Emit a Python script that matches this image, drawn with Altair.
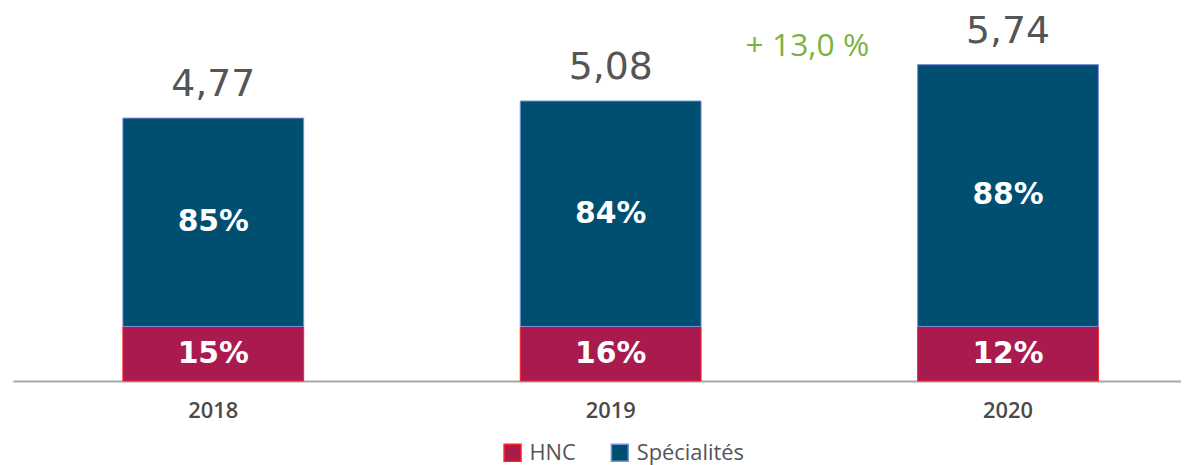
import altair as alt
import pandas as pd

years = ["2018", "2019", "2020"]
totals = [4.77, 5.08, 5.74]
total_labels = ["4,77", "5,08", "5,74"]
hnc_pct = ["15%", "16%", "12%"]
spec_pct = ["85%", "84%", "88%"]
# drawn height of the HNC segment (same units as totals)
hnc_segment = [0.99, 0.99, 0.99]
growth_label = "+ 13,0 %"
segments = ["HNC", "Spécialités"]
seg_colors = ["#a91b4f", "#004f71"]
seg_strokes = ["#ff2020", "#7d8fe0"]

rows = []
for i, yr in enumerate(years):
    h = hnc_segment[i]
    s = totals[i] - h
    rows.append(dict(year=yr, segment="HNC", value=h, start=0.0, mid=h / 2, label=hnc_pct[i], ord=0))
    rows.append(dict(year=yr, segment="Spécialités", value=s, start=h, mid=h + s / 2, label=spec_pct[i], ord=1))
seg_df = pd.DataFrame(rows)
tot_df = pd.DataFrame(dict(year=years, total=totals, label=total_labels))
growth_df = pd.DataFrame(dict(year=[years[-1]], total=[totals[-1]], label=[growth_label]))

FONT = "Open Sans"
xscale = alt.Scale(paddingInner=0.545, paddingOuter=0.2422, align=0.571)
yscale = alt.Scale(domain=[0, 6.595], nice=False, zero=True)

x = alt.X("year:N", scale=xscale, sort=years,
          axis=alt.Axis(title=None, ticks=False, labelAngle=0, labelFontSize=22,
                        labelFont=FONT, labelFontWeight=600, labelColor="#4a4a4a",
                        labelPadding=20, domainColor="#a8a8a8", domainWidth=2))

bars = alt.Chart(seg_df).mark_bar(strokeWidth=1).encode(
    x=x,
    y=alt.Y("value:Q", stack="zero", scale=yscale, axis=None),
    color=alt.Color("segment:N", scale=alt.Scale(domain=segments, range=seg_colors), title=None,
                    legend=alt.Legend(orient="none", legendX=492, legendY=427, direction="horizontal",
                                      symbolType="square", symbolSize=290, symbolStrokeWidth=1.5,
                                      labelFontSize=22, labelFont=FONT, labelColor="#555555",
                                      labelOffset=6, columnPadding=32, padding=0)),
    stroke=alt.Stroke("segment:N", scale=alt.Scale(domain=segments, range=seg_strokes), title=None),
    order=alt.Order("ord:Q"),
)

seg_text = alt.Chart(seg_df).mark_text(font="DejaVu Sans", fontSize=30, fontWeight="bold", color="white",
                                       baseline="middle").encode(
    x=alt.X("year:N", scale=xscale, sort=years),
    y=alt.Y("mid:Q", scale=yscale),
    text="label:N",
)

tot_text = alt.Chart(tot_df).mark_text(font="DejaVu Sans", fontSize=38, color="#555555",
                                       baseline="alphabetic", dy=-22).encode(
    x=alt.X("year:N", scale=xscale, sort=years),
    y=alt.Y("total:Q", scale=yscale),
    text="label:N",
)

growth_text = alt.Chart(growth_df).mark_text(font=FONT, fontSize=32, color="#7ab342",
                                             baseline="middle", dx=-202, dy=-19).encode(
    x=alt.X("year:N", scale=xscale, sort=years),
    y=alt.Y("total:Q", scale=yscale),
    text="label:N",
)

chart = alt.layer(bars, seg_text, tot_text, growth_text).properties(
    width=1176, height=366,
    autosize=alt.AutoSizeParams(type="none"),
    padding={"left": 5, "top": 8, "right": 0, "bottom": 83},
    background="white",
).configure_view(stroke=None)

chart.save("out.html", embed_options={"renderer": "svg", "actions": False})
